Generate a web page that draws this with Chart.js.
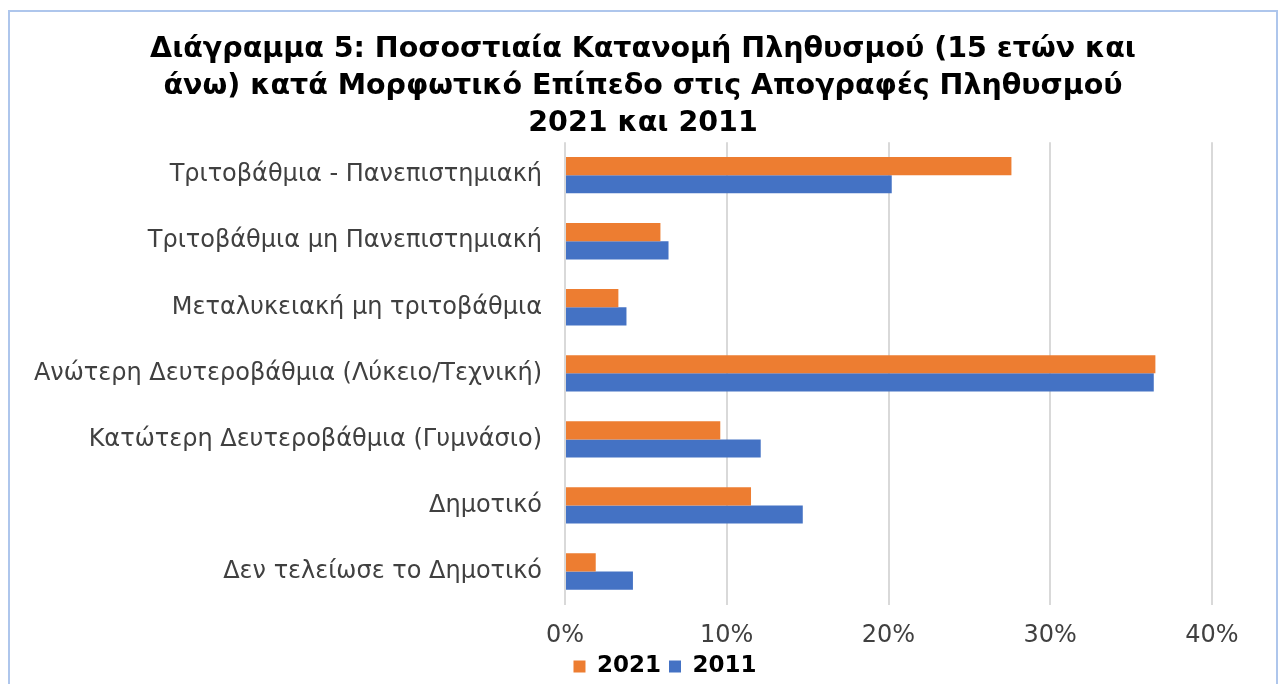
<!DOCTYPE html>
<html>
<head>
<meta charset="utf-8">
<script src="https://cdn.jsdelivr.net/npm/chart.js@4.4.1/dist/chart.umd.min.js"></script>
<style>
  html, body { margin: 0; padding: 0; background: #fff; overflow: hidden; }
  #frame {
    position: absolute; left: 8px; top: 10px;
    width: 1266px; height: 700px;
    border: 2px solid #aec6ec; border-bottom: none;
  }
  #wrap { width: 1266px; height: 672px; }
</style>
</head>
<body>
<div id="frame"><div id="wrap"><canvas id="chart"></canvas></div></div>
<script>
// κατηγορίες (από πάνω προς τα κάτω)
const categories = [
  'Τριτοβάθμια - Πανεπιστημιακή',
  'Τριτοβάθμια μη Πανεπιστημιακή',
  'Μεταλυκειακή μη τριτοβάθμια',
  'Ανώτερη Δευτεροβάθμια (Λύκειο/Τεχνική)',
  'Κατώτερη Δευτεροβάθμια (Γυμνάσιο)',
  'Δημοτικό',
  'Δεν τελείωσε το Δημοτικό'
];
const values2021 = [27.6, 5.9, 3.3, 36.5, 9.6, 11.5, 1.9];
const values2011 = [20.2, 6.4, 3.8, 36.4, 12.1, 14.7, 4.2];
const xTicks = [0, 10, 20, 30, 40];

const FONT = "'DejaVu Sans', Verdana, sans-serif";

// τίτλος και υπόμνημα κεντραρισμένα όπως στο πρωτότυπο
const blockShift = {
  id: 'blockShift',
  afterLayout(chart) {
    const t = chart.titleBlock;
    if (t) { t.left += 32; t.right += 32; }
    const lg = chart.legend;
    if (lg) { lg.left += 54; lg.right += 54; lg.top += 4; lg.bottom += 4; }
  }
};

new Chart(document.getElementById('chart'), {
  type: 'bar',
  data: {
    labels: categories,
    datasets: [
      { label: '2021', data: values2021, backgroundColor: '#ED7D31' },
      { label: '2011', data: values2011, backgroundColor: '#4472C4' }
    ]
  },
  plugins: [blockShift],
  options: {
    indexAxis: 'y',
    responsive: true,
    maintainAspectRatio: false,
    animation: false,
    datasets: { bar: { barPercentage: 1, categoryPercentage: 0.55 } },
    layout: { padding: { left: 0, right: 64, top: 19, bottom: 0 } },
    plugins: {
      title: {
        display: true,
        text: [
          'Διάγραμμα 5: Ποσοστιαία Κατανομή Πληθυσμού (15 ετών και',
          'άνω) κατά Μορφωτικό Επίπεδο στις Απογραφές Πληθυσμού',
          '2021 και 2011'
        ],
        color: '#000',
        font: { family: FONT, size: 28.5, weight: 'bold', lineHeight: 1.3 },
        padding: { top: 0, bottom: 0 }
      },
      legend: {
        position: 'bottom',
        labels: {
          color: '#000',
          font: { family: FONT, size: 23, weight: 'bold', lineHeight: 1 },
          boxWidth: 12, boxHeight: 12, padding: 8
        }
      },
      tooltip: { enabled: false }
    },
    scales: {
      x: {
        min: 0, max: 40,
        afterBuildTicks: s => { s.ticks = xTicks.map(v => ({ value: v })); },
        afterFit: s => { s.height = 38.5; },
        ticks: { color: '#404040', font: { family: FONT, size: 24, lineHeight: 0.6 }, padding: 24,
                 maxRotation: 0, callback: v => v + '%' },
        grid: { color: '#d9d9d9', lineWidth: 2, drawTicks: false },
        border: { display: false }
      },
      y: {
        afterFit: s => { s.width = 555; },
        ticks: { color: '#404040', font: { family: FONT, size: 24 }, padding: 23 },
        grid: { display: false, drawTicks: false },
        border: { display: false }
      }
    }
  }
});
</script>
</body>
</html>
